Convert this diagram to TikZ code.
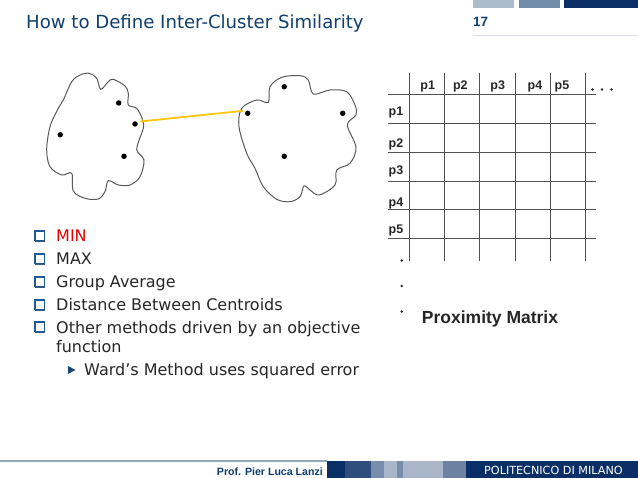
\documentclass[tikz,border=0pt]{standalone}
\usepackage{fontspec}
\setmainfont{DejaVu Sans}
\newfontfamily\arialfont{Liberation Sans}
\usetikzlibrary{arrows.meta}
\definecolor{navy}{HTML}{0F3F6E}
\definecolor{band}{HTML}{0A2F66}
\definecolor{bulletblue}{HTML}{1F5A96}
\definecolor{gridgrey}{HTML}{505050}
\definecolor{linkyellow}{HTML}{FFC60A}
\tikzset{
  blob/.style={draw=black!65,line width=1pt},
  pt/.style={circle,fill=black,inner sep=0pt,minimum size=5.5pt},
  gridline/.style={draw=gridgrey,line width=1pt},
  tlabel/.style={font=\arialfont\bfseries\fontsize{12.5}{13}\selectfont,inner sep=0pt,text=black!85},
  bodytext/.style={font=\fontsize{16}{16}\selectfont,anchor=base west,inner sep=0pt,text=black!85},
  sq/.style={draw=bulletblue,line width=1.5pt,fill=white,minimum size=9.5pt,inner sep=0pt},
  sqshadow/.style={fill=band!80!white,minimum size=10pt,inner sep=0pt},
  link/.style={draw=linkyellow,line width=1.8pt,{Stealth[length=3pt,width=3.5pt]}-{Stealth[length=3pt,width=3.5pt]}},
  dotmark/.style={circle,fill=black!85,inner sep=0pt,minimum size=2.6pt},
}
\begin{document}
\begin{tikzpicture}[x=1pt,y=-1pt]
\useasboundingbox (0,0) rectangle (638,478);
% header
\fill[fill=navy!35!white] (473,0) rectangle (514,8);
\fill[fill=navy!60!white] (519,0) rectangle (560,8);
\fill[fill=band] (564,0) rectangle (638,8);
\draw[navy!15,line width=0.8pt] (473,35.5) -- (638,35.5);
\node[font=\fontsize{18.1}{18}\selectfont,anchor=base west,inner sep=0pt,text=navy] (title) at (26,29) {How to Define Inter-Cluster Similarity};
\node[font=\arialfont\bfseries\fontsize{13.5}{14}\selectfont,anchor=base west,inner sep=0pt,text=navy] (num) at (473,27) {17};
% clusters
\draw[blob] plot[smooth cycle,tension=0.55] coordinates {
(89.3,73.3)(96.7,78.3)(100.7,89.3)(108.3,81.7)(113.3,79.3)(125,86)(128.3,93.3)(128.3,105)(136.7,108.3)(142.7,120)(143.3,128.3)(136.7,149.3)(144,160)(140,176.7)(130,185)(118.3,185)(108.3,180.7)(105,191.7)(98.3,199)(85,198.3)(73.3,191)(71.7,173.3)(61.7,175)(50,166.7)(46.7,150)(50,126.7)(58.3,108.3)(63.3,100)(71.7,81.7)(80,75)};
\draw[blob] plot[smooth cycle,tension=0.55] coordinates {
(300,75.7)(308.3,80)(313.3,94)(330,90)(346.7,91.7)(355,105)(356,115)(347.3,125)(356,147.3)(350,163.3)(336.7,170)(335,185)(319.3,195)(310,190)(304,186)(300,196.7)(290,201.7)(276.7,199.3)(263.3,186.7)(255,168.3)(246.7,153.3)(239,126.7)(241.7,108.3)(256.7,100)(268.3,102.3)(270,86.7)(281.7,77.3)};
\node[pt] (a1) at (118.7,103) {};
\node[pt] (a2) at (135,124) {};
\node[pt] (a3) at (60.3,134.7) {};
\node[pt] (a4) at (124,156.3) {};
\node[pt] (b1) at (284.3,86.7) {};
\node[pt] (b2) at (247.7,113.3) {};
\node[pt] (b3) at (342.7,113.3) {};
\node[pt] (b4) at (284.3,156.3) {};
\draw[link] (a2) ++(5,-2.5) coordinate (la) (b2) ++(-4,-2.5) coordinate (lb) (la) -- (lb);
% grid
\foreach \x in {409.7,444.3,479.7,515,550,585.3} \draw[gridline] (\x,73.3) -- (\x,260.7);
\foreach \y in {95,124,152.7,181.3,210,238.7} \draw[gridline] (388.3,\y) -- (596,\y);
\foreach \n/\x/\l in {h1/427.7/p1,h2/460.3/p2,h3/497.7/p3,h4/535/p4,h5/562/p5}
  \node[tlabel] (\n) at (\x,86) {\l};
\foreach \n/\y/\l in {v1/112.5/p1,v2/144/p2,v3/171/p3,v4/203/p4,v5/230/p5}
  \node[tlabel] (\n) at (396,\y) {\l};
\node[dotmark] (d1) at (592.5,89.5) {};
\node[dotmark] (d2) at (602,89.5) {};
\node[dotmark] (d3) at (611.5,89.5) {};
\node[dotmark] (e1) at (401.7,260.5) {};
\node[dotmark] (e2) at (401.7,286) {};
\node[dotmark] (e3) at (401.7,311.5) {};
\node[font=\arialfont\bfseries\fontsize{17.5}{18}\selectfont,inner sep=0pt,text=black!85] (pm) at (490,318.5) {Proximity Matrix};
% bullets
\foreach \n/\y in {s1/236,s2/259,s3/282,s4/305,s5/327}{
  \node[sqshadow] (\n s) at (40.2,\y+0.8) {};
  \node[sq] (\n) at (39.5,\y) {};
}
\node[bodytext,text=red!90!black] (t1) at (56,242) {MIN};
\node[bodytext] (t2) at (56,265) {MAX};
\node[bodytext] (t3) at (56,288) {Group Average};
\node[bodytext] (t4) at (56,311) {Distance Between Centroids};
\node[bodytext] (t5) at (56,333.5) {Other methods driven by an objective};
\node[bodytext] (t6) at (56,353) {function};
\fill[bulletblue!80!black] (68,366) -- (75.5,370) -- (68,374) -- cycle;
\node[bodytext] (t7) at (84,375.5) {Ward’s Method uses squared error};
% footer
\draw[navy!45!white,line width=1.6pt] (0,461) -- (327,461);
\fill[band] (327,461) rectangle (638,478);
\fill[fill=band!85!white] (345,461) rectangle (371,478);
\fill[fill=band!55!white] (371,461) rectangle (384,478);
\fill[fill=band!35!white] (384,461) rectangle (397,478);
\fill[fill=band!55!white] (397,461) rectangle (403,478);
\fill[fill=band!35!white] (403,461) rectangle (443,478);
\fill[fill=band!60!white] (443,461) rectangle (466,478);
\node[font=\arialfont\bfseries\fontsize{10.6}{11}\selectfont,anchor=base east,inner sep=0pt,text=navy] (prof) at (323,476) {Prof. Pier Luca Lanzi};
\node[font=\fontsize{11.2}{11}\selectfont,anchor=base west,inner sep=0pt,text=white] (poli) at (484,474.5) {POLITECNICO DI MILANO};
\end{tikzpicture}
\end{document}
